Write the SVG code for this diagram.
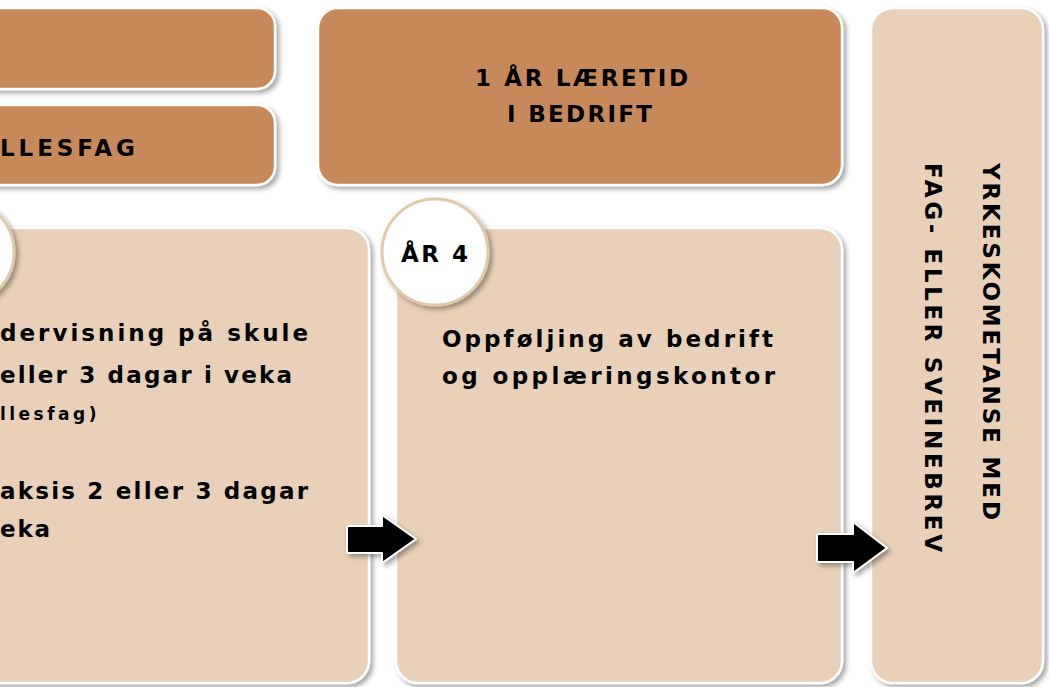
<svg xmlns="http://www.w3.org/2000/svg" width="1049" height="687" viewBox="0 0 1049 687">
<defs>
<filter id="sh" x="-10%" y="-10%" width="130%" height="130%">
<feDropShadow dx="3" dy="3" stdDeviation="2.5" flood-color="#000" flood-opacity="0.35"/>
</filter>
<style>
.dark{fill:#C8895A;stroke:#fff;stroke-width:2.5;filter:url(#sh)}
.light{fill:#E8D1B8;stroke:#fff;stroke-width:2.5;filter:url(#sh)}
.circ{fill:#fff;stroke:#E2C9AA;stroke-width:3;filter:url(#sh)}
.arr{fill:#000;stroke:#fff;stroke-width:2;stroke-linejoin:round;filter:url(#sh)}
text{font-family:"DejaVu Sans","Noto Sans",sans-serif;font-weight:bold;fill:#000}
.h{font-size:23px}
.b{font-size:23px}
.s{font-size:17px;letter-spacing:1.5px}
</style>
</defs>
<rect width="1049" height="687" fill="#fff"/>
<g id="top1"><rect class="dark" x="-30" y="8" width="305" height="81" rx="18"/></g>
<g id="top2"><rect class="dark" x="-30" y="105" width="305" height="80" rx="18"/>
<text class="h" x="0" y="156" textLength="135" lengthAdjust="spacing">LLESFAG</text></g>
<g id="top3"><rect class="dark" x="318" y="8" width="524" height="177" rx="20"/>
<text class="h" x="475" y="86" textLength="213" lengthAdjust="spacing">1 ÅR LÆRETID</text>
<text class="h" x="507" y="122" textLength="145" lengthAdjust="spacing">I BEDRIFT</text></g>
<g id="year3"><rect class="light" x="-30" y="228" width="399" height="455" rx="22"/>
<text class="b" x="0" y="341" textLength="308" lengthAdjust="spacing">dervisning på skule</text>
<text class="b" x="0" y="383" textLength="292" lengthAdjust="spacing">eller 3 dagar i veka</text>
<text class="s" x="0" y="420" textLength="98" lengthAdjust="spacing">llesfag)</text>
<text class="b" x="0" y="499" textLength="308" lengthAdjust="spacing">aksis 2 eller 3 dagar</text>
<text class="b" x="0" y="537" textLength="50" lengthAdjust="spacing">eka</text></g>
<g id="circle3"><circle class="circ" cx="-39" cy="252" r="53"/></g>
<g id="year4"><rect class="light" x="396" y="228" width="446" height="455" rx="22"/>
<text class="b" x="442" y="347" textLength="331" lengthAdjust="spacing">Oppføljing av bedrift</text>
<text class="b" x="442" y="384" textLength="333" lengthAdjust="spacing">og opplæringskontor</text></g>
<g id="circle4"><circle class="circ" cx="435" cy="252" r="53"/>
<text class="h" x="401" y="262" textLength="67" lengthAdjust="spacing">ÅR 4</text></g>
<g id="result"><rect class="light" x="871" y="8" width="172" height="675" rx="22"/>
<text class="h" transform="translate(983,163) rotate(90)" x="0" y="0" textLength="357" lengthAdjust="spacing">YRKESKOMETANSE MED</text>
<text class="h" transform="translate(925,163) rotate(90)" x="0" y="0" textLength="389" lengthAdjust="spacing">FAG- ELLER SVEINEBREV</text></g>
<g id="connectors">
<path class="arr" d="M349,526 H382 V515 L416,539 L382,563 V553 H349 Q347,553 347,551 V528 Q347,526 349,526 Z"/>
<path class="arr" d="M819,534 H853 V522 L887,548 L853,573 V562 H819 Q817,562 817,560 V536 Q817,534 819,534 Z"/>
</g>
</svg>
